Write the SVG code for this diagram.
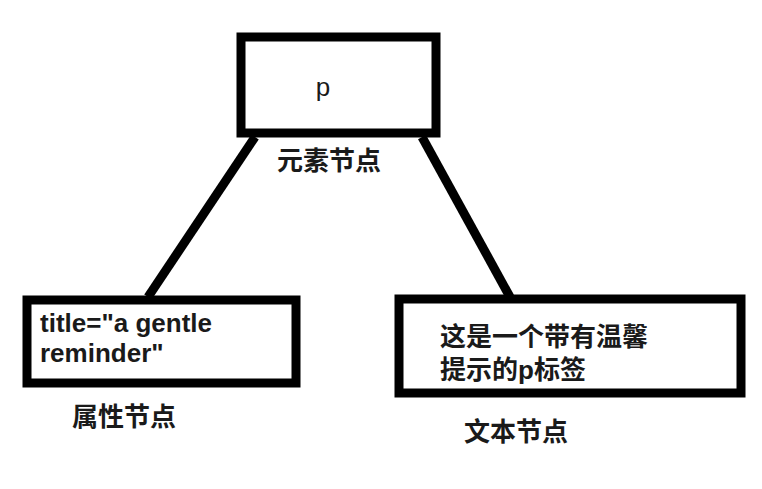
<svg xmlns="http://www.w3.org/2000/svg" width="762" height="489" viewBox="0 0 762 489">
<style>
.box{fill:#fff;stroke:#000;stroke-width:9}
.edge{stroke:#000;stroke-width:9;fill:none}
.t{font-family:"Liberation Sans","Noto Sans CJK SC",sans-serif;font-size:26px;fill:#1a1a1a;font-weight:bold}
.p{font-family:"Liberation Sans",sans-serif;font-size:26px;fill:#1a1a1a}
</style>
<rect width="762" height="489" fill="#fff"/>
<g id="connectors">
<line class="edge" x1="255" y1="137" x2="148" y2="297"/>
<line class="edge" x1="422" y1="137" x2="510" y2="297"/>
</g>
<g id="node-p">
<rect class="box" x="241" y="37" width="195" height="96"/>
<text class="p" x="323" y="96" text-anchor="middle">p</text>
<text class="t" x="329" y="170" text-anchor="middle" font-family="Noto Sans CJK SC">元素节点</text>
</g>
<g id="node-attr">
<rect class="box" x="27" y="300" width="269" height="83"/>
<text class="t" x="40" y="332">title="a gentle</text>
<text class="t" x="40" y="362">reminder"</text>
<text class="t" x="124" y="426" text-anchor="middle">属性节点</text>
</g>
<g id="node-text">
<rect class="box" x="399" y="299" width="342" height="94"/>
<text class="t" x="440" y="346">这是一个带有温馨</text>
<text class="t" x="440" y="379">提示的p标签</text>
<text class="t" x="516" y="441" text-anchor="middle">文本节点</text>
</g>
</svg>
